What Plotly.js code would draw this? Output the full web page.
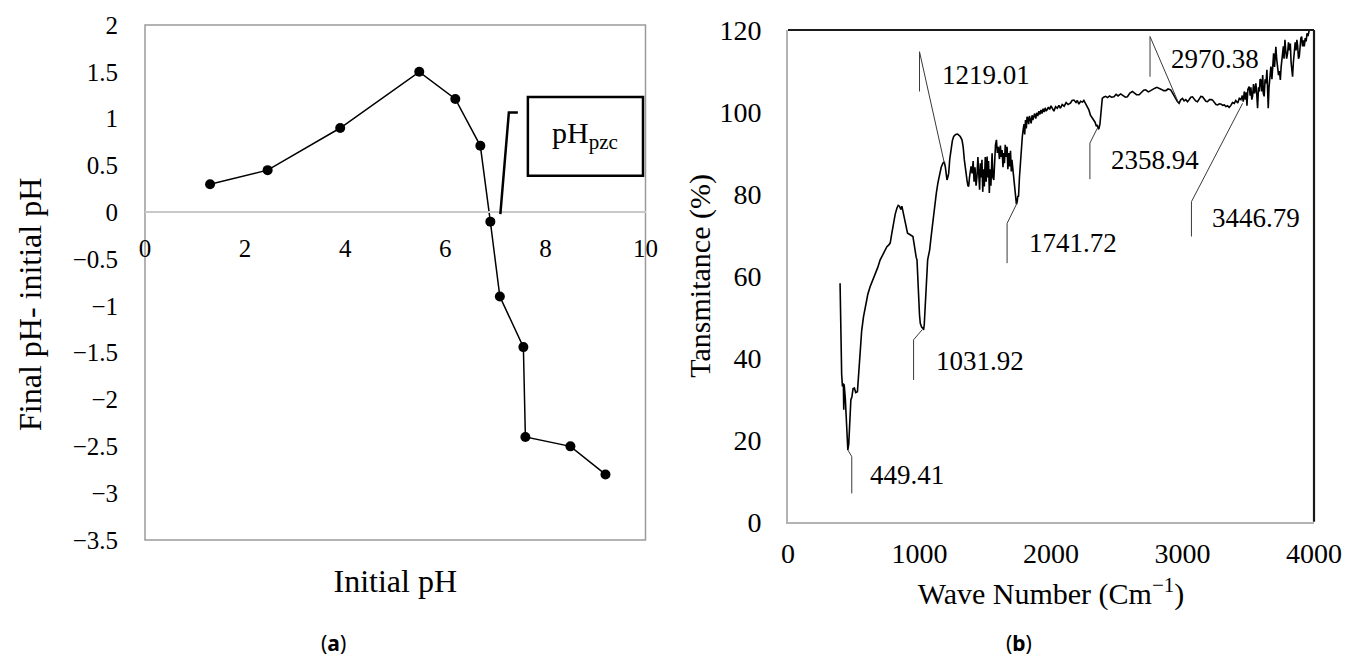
<!DOCTYPE html>
<html>
<head>
<meta charset="utf-8">
<script src="https://cdn.plot.ly/plotly-3.0.1.min.js"></script>
<style>html,body{margin:0;padding:0;background:#fff;} #chart{width:1354px;height:662px;}</style>
</head>
<body>
<div id="chart"></div>
<script>
// ---------- Panel (a): point of zero charge ----------
const initialPH = [1.3, 2.45, 3.9, 5.48, 6.2, 6.7, 6.9, 7.09, 7.56, 7.6, 8.5, 9.2];
const deltaPH   = [0.3, 0.45, 0.9, 1.5, 1.21, 0.71, -0.1, -0.9, -1.44, -2.4, -2.5, -2.8];
const phTickVals = [-3.5, -3, -2.5, -2, -1.5, -1, -0.5, 0, 0.5, 1, 1.5, 2];
const phXTicks = [0, 2, 4, 6, 8, 10];

// ---------- Panel (b): FTIR spectrum ----------
const waveNumber = [
 396,402,408,414,421,424,427,436,445,455,462,470,478,486,495,505,515,528,538,549,
 560,574,590,607,625,645,663,682,701,726,740,752,765,777,790,802,815,828,838,848,
 858,866,874,882,891,900,909,920,930,940,950,958,968,975,981,987,993,1000,1006,1016,
 1026,1031,1036,1042,1049,1055,1062,1070,1077,1090,1102,1115,1128,1140,1153,1165,1178,1188,1196,1203,
 1209,1215,1222,1230,1241,1250,1260,1275,1290,1298,1310,1323,1332,1341,1350,1361,1368,1374,1380,1386,
 1392,1400,1408,1415,1422,1430,1437,1444,1450,1457,1463,1469,1475,1481,1487,1493,1500,1507,1514,1520,
 1525,1531,1537,1543,1552,1558,1565,1572,1578,1585,1592,1600,1608,1615,1622,1628,1635,1640,1646,1652,
 1659,1666,1672,1679,1686,1692,1698,1703,1710,1717,1723,1730,1737,1743,1748,1753,1760,1768,1775,1782,
 1788,1795,1800,1806,1812,1818,1824,1830,1836,1842,1849,1856,1862,1869,1876,1884,1892,1900,1908,1916,
 1924,1932,1940,1948,1956,1964,1971,1980,1990,2000,2010,2022,2035,2048,2060,2072,2085,2100,2115,2130,
 2149,2160,2174,2190,2200,2212,2225,2240,2250,2263,2275,2288,2300,2306,2315,2326,2335,2345,2352,2360,
 2365,2372,2377,2383,2390,2400,2415,2430,2445,2460,2479,2495,2510,2530,2550,2565,2581,2600,2619,2635,
 2650,2670,2690,2705,2720,2740,2758,2775,2790,2805,2822,2840,2856,2873,2890,2910,2925,2935,2949,2960,
 2974,2985,3000,3012,3025,3038,3050,3063,3076,3090,3100,3114,3125,3140,3152,3165,3178,3190,3205,3220,
 3229,3240,3255,3267,3280,3295,3305,3318,3330,3342,3355,3368,3380,3394,3405,3420,3432,3444,3455,3462,
 3470,3478,3485,3490,3497,3507,3515,3520,3527,3533,3540,3548,3558,3565,3571,3578,3585,3590,3596,3603,
 3610,3615,3621,3628,3635,3642,3647,3652,3658,3665,3672,3680,3687,3693,3700,3705,3710,3716,3723,3730,
 3737,3744,3750,3756,3761,3767,3772,3779,3785,3792,3799,3806,3813,3820,3826,3832,3837,3843,3850,3857,
 3863,3870,3876,3882,3888,3894,3900,3906,3913,3920,3926,3933,3940,3947,3954,3964,3975,4000
];
const transmittance = [
 58.2,45,36,33,33.8,27.3,33.5,30,22,17.5,19,26,29.7,30.5,32.5,32.6,31.5,31.7,37,42.7,
 46.5,50,53,55.5,57.4,59,60.2,62,63.9,65.5,66,67.1,67.5,68,70.5,72.8,75,76.5,77.2,77,
 76.2,77,75.7,74.5,73.6,71.5,70.4,70.2,70,69.8,69.6,68,65.5,64.5,63.9,59,54.1,50.5,48.4,47.5,
 47.2,46.8,48,51.5,55.7,60,63.9,65.2,66.3,70,73.6,77,80.2,82.7,85,86.5,87.5,87.8,86.7,84.5,
 83.4,84,85,88.5,91.5,93,94,94.5,94.6,94.4,94,93.2,91.5,88.3,85.5,83.4,82,81.8,84,86,
 86.7,85,88,83,86.5,82,84.2,89,85,81,87.5,84,88.3,80.5,86,81.8,89,83,89.1,84,
 88,80.2,86,82,89.9,84,83.4,90,92,93.2,90,91.5,88.5,91.8,89,90.7,86.5,90,87.5,92,
 89,91.5,86,90,86.7,90.5,85.5,88.3,86,84.2,81,79.3,77.5,78.1,79.5,79.3,84,88.3,92,94,
 95.6,97,94.5,98,96,98.8,98.5,97,99,97.8,97.2,99.2,98,98.9,99.6,98.4,99.8,99,100.2,99.4,
 100.5,99.6,100.8,100,101,100.3,100.5,101.2,100.6,101.5,100.8,100.2,101.3,100.9,101.6,100.9,101.8,101.4,102.3,101.8,
 102.2,102.8,102.9,102.3,102.8,101.9,102.6,102.4,102.8,101.9,101.5,100.5,99.2,98.9,98.6,98,97.5,96.5,96.8,95.8,
 96,97,98.9,101.5,103.3,103.6,103.8,103.5,103.9,103.6,103.7,104.3,103.9,104.4,104,103.6,103.7,104.6,105,104.6,
 104.2,104.2,104.9,105.3,105.4,104.9,105.2,105.6,105.8,106,105.8,105.5,105.2,105.2,105.6,105.4,104.6,104,103.3,102.6,
 102.1,102.9,103.3,102.7,103,102.5,103,103.6,103.7,103.1,102.7,102.5,103.2,103.8,103.7,103.2,102.6,102.5,103,103,
 102.9,102.4,101.8,101.7,102,101.9,101.6,101.7,101.3,101.5,101.1,101.6,102.3,102.1,102.8,102.2,103.3,103,104,102.5,
 105,103,104.8,101.5,105.5,106.2,104,106,103,103.8,106.8,104.5,107,104,100.9,106,105,108,107.8,105,
 109,104.5,103.8,108,107,110.3,105,100.9,106,109,111.1,108,112,114.3,111,115,115.9,113,111.1,109,
 110,107.8,111,113,114.3,116,113,117.6,115,113,114.3,117,115,116.7,112,110,108.6,112,114.7,117,
 115,117.6,116,113,113.5,116,118,118.4,116,117.5,116,118,117.2,119.2,118.5,120,121,122
];
const irTickVals = [0, 1000, 2000, 3000, 4000];
const peakLabels = ['449.41', '1031.92', '1219.01', '1741.72', '2358.94', '2970.38', '3446.79'];
// label anchor (left edge of text, in axis units)
const peakLabelX = [610, 1107, 1158, 1815, 2440, 2898, 3210];
const peakLabelY = [11.4, 39.1, 109.1, 68, 88.3, 112.8, 74.1];
// leader line: peak point -> elbow -> tail end
const leadPeakX = [455, 1019, 1189, 1747, 2352, 2966, 3457];
const leadPeakY = [17.5, 46.8, 87.5, 78.1, 96, 102.5, 102.1];
const leadElbowX = [485, 955, 1000, 1666, 2296, 2753, 3068];
const leadElbowY = [15.9, 44.4, 114.7, 72.8, 92.4, 118.4, 78.1];
const leadEndY = [6.9, 34.6, 105, 63.1, 83.6, 108.6, 69.6];

const SERIF = 'Liberation Serif, Times New Roman, serif';
const SANS = 'Noto Sans, Open Sans, sans-serif';
const W = 1354, H = 662;
const px = (v) => v / W;
const py = (v) => 1 - v / H;
const serifFont = (size) => ({family: SERIF, size: size, color: '#000'});

const traces = [
  {
    x: initialPH, y: deltaPH, xaxis: 'x', yaxis: 'y',
    type: 'scatter', mode: 'lines+markers',
    line: {color: '#000', width: 1.5},
    marker: {color: '#000', size: 10},
    showlegend: false, hoverinfo: 'x+y'
  },
  {
    x: waveNumber, y: transmittance, xaxis: 'x2', yaxis: 'y2',
    type: 'scatter', mode: 'lines',
    line: {color: '#000', width: 1.6},
    showlegend: false, hoverinfo: 'x+y'
  }
];

const shapes = [
  {type: 'rect', xref: 'x domain', yref: 'y domain', x0: 0, x1: 1, y0: 0, y1: 1,
   line: {color: '#9a9a9a', width: 1.5}, layer: 'below'},
  {type: 'rect', xref: 'x', yref: 'y', x0: 7.65, x1: 9.95, y0: 0.39, y1: 1.23,
   line: {color: '#000', width: 2.5}},
  {type: 'path', xref: 'x', yref: 'y', path: 'M 7.1,-0.02 L 7.27,1.066 L 7.45,1.066',
   line: {color: '#000', width: 2.5}},
  {type: 'line', xref: 'x2 domain', yref: 'y2 domain', x0: 0, x1: 1, y0: 1, y1: 1,
   line: {color: '#1a1a1a', width: 2.2}},
  {type: 'line', xref: 'x2 domain', yref: 'y2 domain', x0: 1, x1: 1, y0: 0, y1: 1,
   line: {color: '#1a1a1a', width: 2.2}}
];

const annotations = [
  {xref: 'x', yref: 'y', x: 8.8, y: 0.82, text: 'pH<sub>pzc</sub>', showarrow: false,
   font: serifFont(30)},
  // y-axis title of panel (a), placed where the reference has it
  {xref: 'paper', yref: 'paper', x: px(30), y: py(305), xanchor: 'center', yanchor: 'middle',
   textangle: -90, text: 'Final pH- initial pH', showarrow: false, font: serifFont(32)},
  {xref: 'paper', yref: 'paper', x: px(333), y: py(643), xanchor: 'center', yanchor: 'middle',
   text: '(<b>a</b>)', showarrow: false, font: {family: SANS, size: 21, color: '#000'}},
  {xref: 'paper', yref: 'paper', x: px(1019), y: py(643), xanchor: 'center', yanchor: 'middle',
   text: '(<b>b</b>)', showarrow: false, font: {family: SANS, size: 21, color: '#000'}}
];

for (let i = 0; i < peakLabels.length; i++) {
  shapes.push({
    type: 'path', xref: 'x2', yref: 'y2',
    path: `M ${leadPeakX[i]},${leadPeakY[i]} L ${leadElbowX[i]},${leadElbowY[i]} L ${leadElbowX[i]},${leadEndY[i]}`,
    line: {color: '#3a3a3a', width: 1}
  });
  annotations.push({
    xref: 'x2', yref: 'y2', x: peakLabelX[i], y: peakLabelY[i], text: peakLabels[i],
    showarrow: false, xanchor: 'left', yanchor: 'middle',
    font: serifFont(27)
  });
}

const yDomA = [py(540), py(25)];
const zeroPos = yDomA[0] + (0 - phTickVals[0]) / (2 - phTickVals[0]) * (yDomA[1] - yDomA[0]);

const layout = {
  width: W, height: H,
  margin: {l: 0, r: 0, t: 0, b: 0, pad: 0},
  paper_bgcolor: '#fff', plot_bgcolor: '#fff',
  font: {family: SERIF, color: '#000', size: 25},
  showlegend: false,
  xaxis: {
    domain: [px(145), px(645.5)], anchor: 'free', position: zeroPos,
    range: [0, 10], tickvals: phXTicks, ticks: '', showgrid: false, zeroline: false,
    showline: true, linecolor: '#c9c9c9', linewidth: 2,
    tickfont: serifFont(25), ticklabelstandoff: 14,
    title: {text: 'Initial pH', font: serifFont(32), standoff: 307},
    automargin: false, fixedrange: true
  },
  yaxis: {
    domain: yDomA, anchor: 'x', range: [-3.5, 2], tickvals: phTickVals,
    ticks: '', showgrid: false, zeroline: false, showline: false,
    tickfont: serifFont(25), ticklabelstandoff: 26,
    automargin: false, fixedrange: true
  },
  xaxis2: {
    domain: [px(788), px(1314)], anchor: 'y2', range: [0, 4000], tickvals: irTickVals,
    ticks: '', showgrid: false, zeroline: false,
    showline: true, linecolor: '#b3b3b3', linewidth: 2,
    tickfont: serifFont(28), ticklabelstandoff: 6,
    title: {text: 'Wave Number (Cm<sup>−1</sup>)', font: serifFont(30), standoff: 15},
    automargin: false, fixedrange: true
  },
  yaxis2: {
    domain: [py(521.7), py(30)], anchor: 'x2', range: [0, 120], dtick: 20, tick0: 0,
    ticks: '', showgrid: false, zeroline: false,
    showline: true, linecolor: '#b3b3b3', linewidth: 2,
    tickfont: serifFont(28), ticklabelstandoff: 19,
    title: {text: 'Tansmitance (%)', font: serifFont(30), standoff: 0},
    automargin: false, fixedrange: true
  },
  shapes: shapes,
  annotations: annotations
};

Plotly.newPlot('chart', traces, layout, {displayModeBar: false, staticPlot: true});
</script>
</body>
</html>
